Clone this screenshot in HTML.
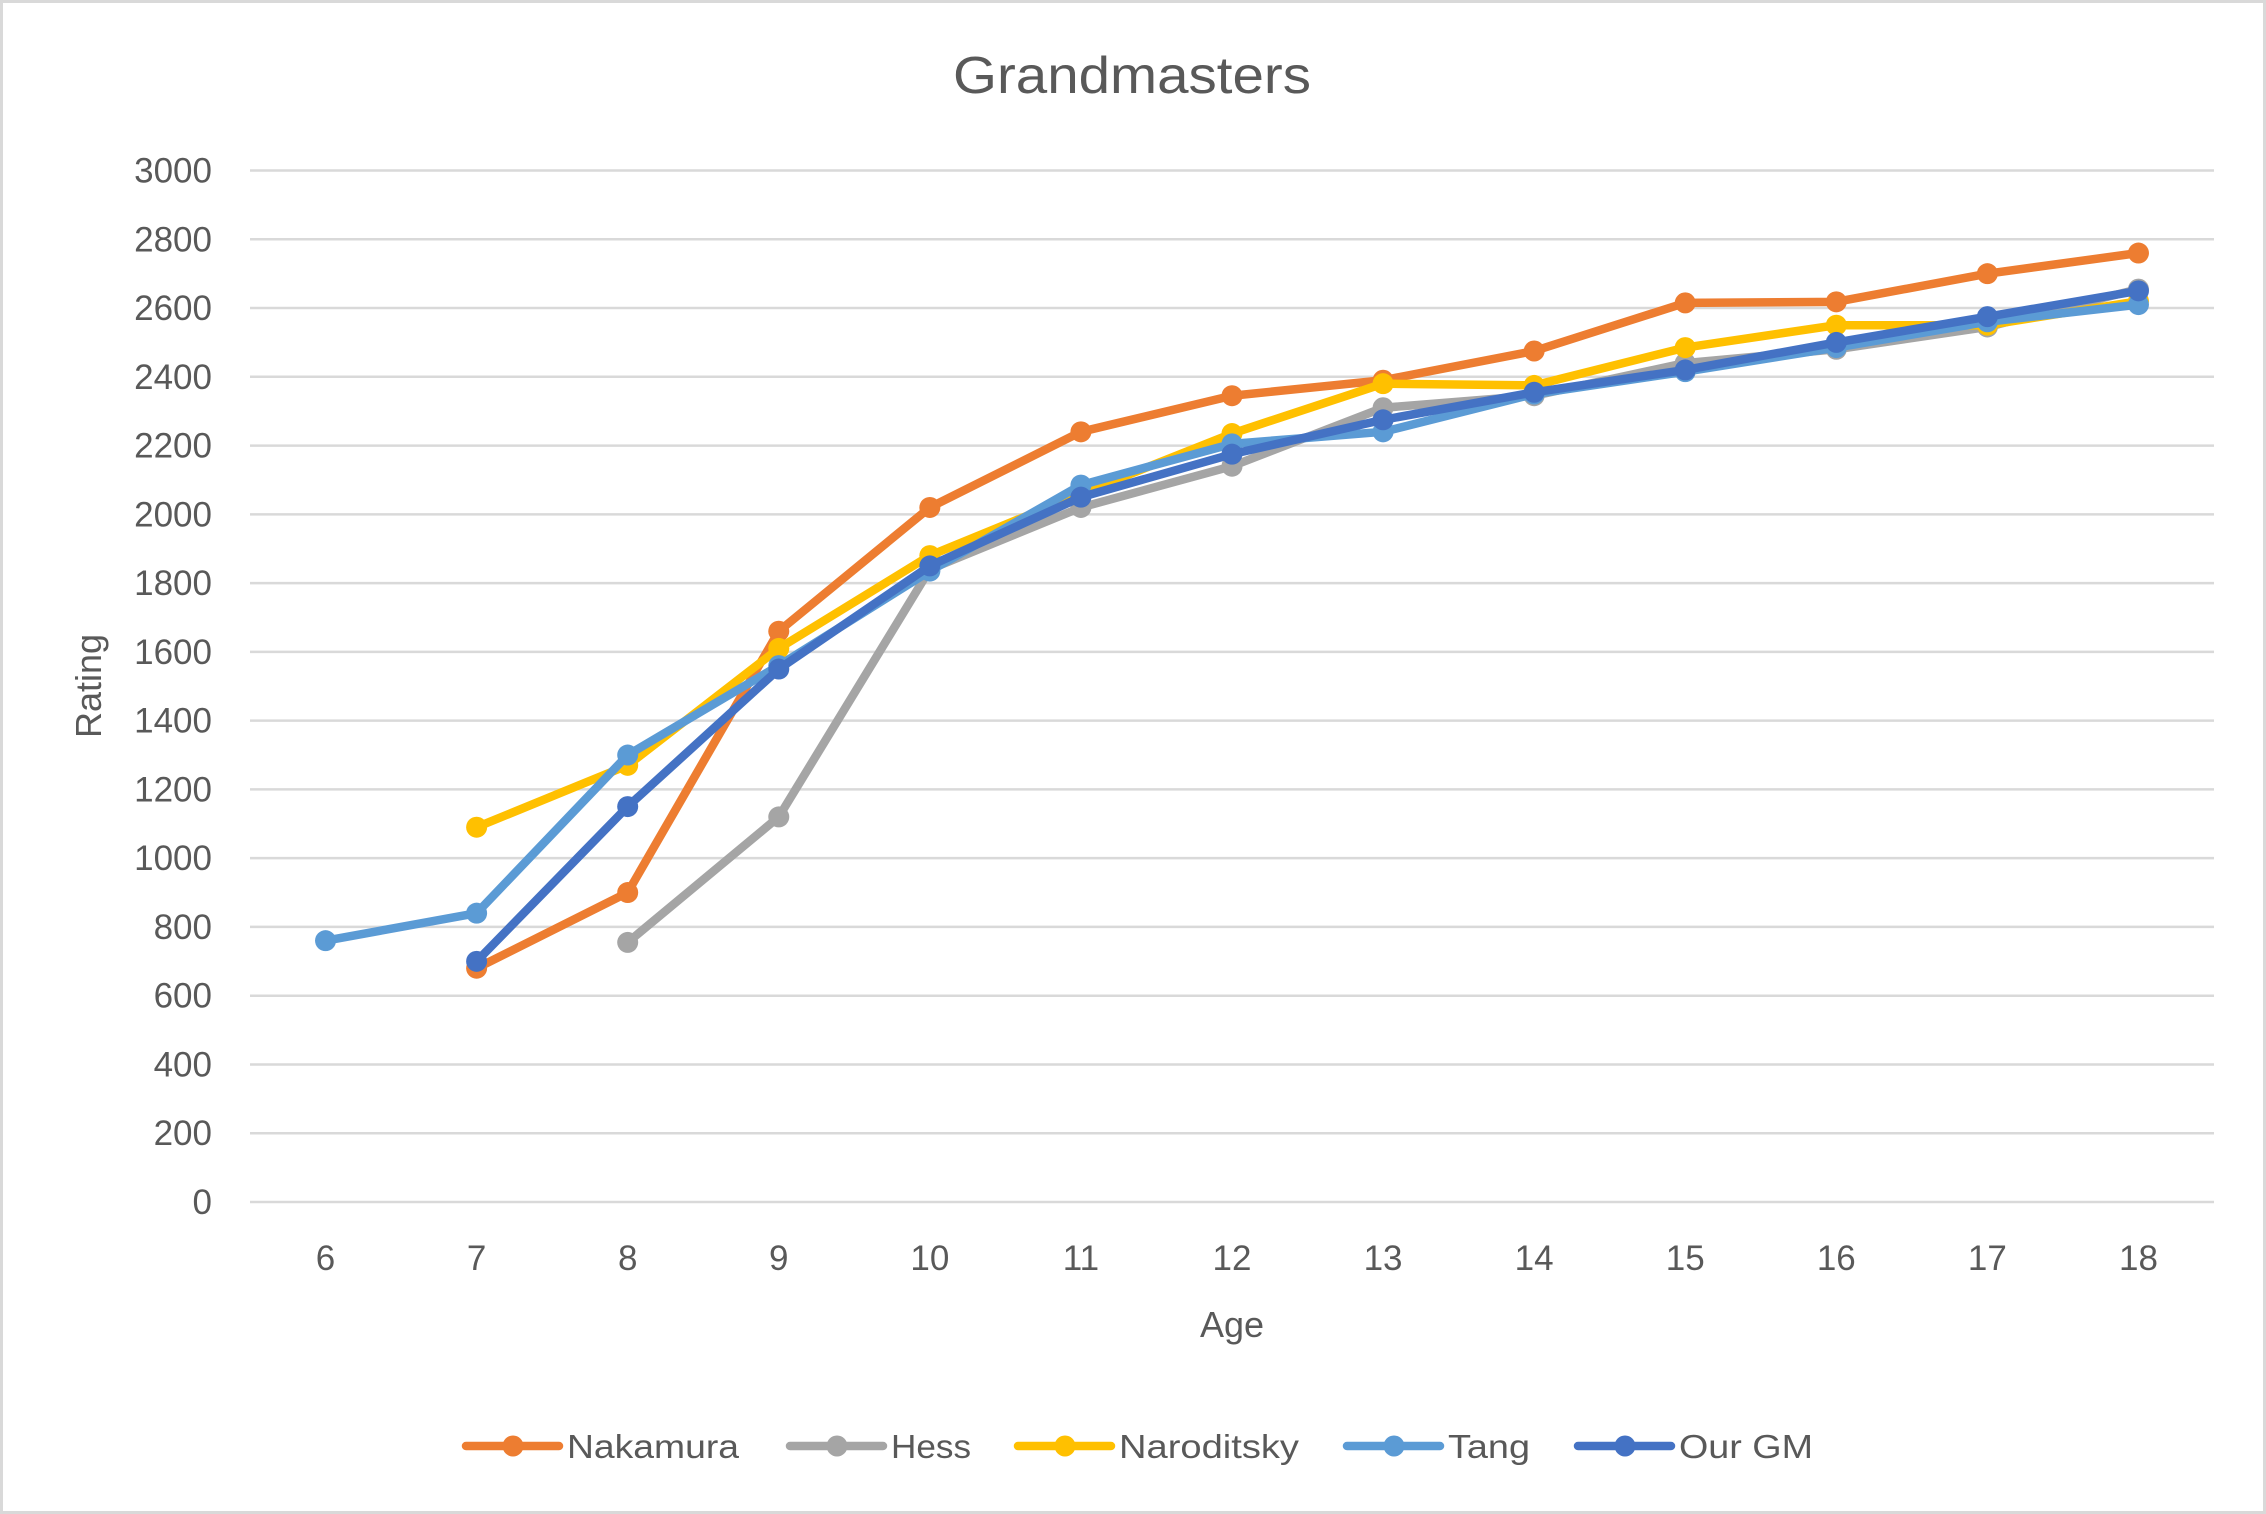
<!DOCTYPE html>
<html><head><meta charset="utf-8"><style>
html,body{margin:0;padding:0;background:#fff}
svg{display:block;font-family:"Liberation Sans",sans-serif}
</style></head><body>
<svg id="chart" width="2266" height="1514" viewBox="0 0 2266 1514">
<rect x="1.5" y="1.5" width="2263" height="1511" fill="#fff" stroke="#d9d9d9" stroke-width="3"/>
<text x="1132" y="93" text-anchor="middle" font-size="52" fill="#595959" textLength="358" lengthAdjust="spacingAndGlyphs">Grandmasters</text>
<g id="grid"></g>
<g id="yticks"></g>
<g id="xticks"></g>
<g id="series"></g>
<text x="1232" y="1337" text-anchor="middle" font-size="36" fill="#595959">Age</text>
<text transform="translate(101,686) rotate(-90)" text-anchor="middle" font-size="36" fill="#595959">Rating</text>
<g id="legend"></g>
</svg>
<script>
const ages = [6,7,8,9,10,11,12,13,14,15,16,17,18];
const yTickLabels = [0,200,400,600,800,1000,1200,1400,1600,1800,2000,2200,2400,2600,2800,3000];
const seriesNames = ["Nakamura","Hess","Naroditsky","Tang","Our GM"];
const nakamura = [null,680,900,1660,2020,2240,2345,2390,2475,2615,2618,2700,2760];
const hess = [null,null,755,1120,1840,2020,2140,2310,2345,2440,2480,2545,2655];
const naroditsky = [null,1090,1270,1610,1880,2060,2235,2380,2375,2485,2550,2550,2620];
const tang = [760,840,1300,1560,1835,2085,2205,2240,2350,2415,2485,2560,2610];
const ourGM = [null,700,1150,1550,1850,2050,2175,2275,2355,2420,2500,2575,2650];
const seriesColors = ["#ed7d31","#a5a5a5","#ffc000","#5b9bd5","#4472c4"];
const seriesData = [nakamura,hess,naroditsky,tang,ourGM];

const NS="http://www.w3.org/2000/svg";
const L=250,R=2214,Y0=1202,Y1=170.5,YMAX=3000;
const band=(R-L)/ages.length;
const x=i=>L+band*(i+0.5);
const y=v=>Y0-(v/YMAX)*(Y0-Y1);
function mk(tag,attrs,parent){const e=document.createElementNS(NS,tag);for(const k in attrs)e.setAttribute(k,attrs[k]);parent.appendChild(e);return e;}

const grid=document.getElementById('grid'),yt=document.getElementById('yticks'),xt=document.getElementById('xticks');
yTickLabels.forEach(v=>{
  const g=mk('line',{x1:L,x2:R,y1:y(v),y2:y(v),stroke:'#d9d9d9','stroke-width':2.5},grid);
  
  
  const t=mk('text',{x:212,y:y(v)+12,'text-anchor':'end','font-size':35,fill:'#595959'},yt);
  t.textContent=v;
  
  
});
ages.forEach((a,i)=>{
  const t=mk('text',{x:x(i),y:1270,'text-anchor':'middle','font-size':35,fill:'#595959'},xt);
  t.textContent=a;
  
  
});
const sg=document.getElementById('series');
seriesData.forEach((d,s)=>{
  const g=mk('g',{},sg);
  
  
  let pts=[];d.forEach((v,i)=>{if(v!=null)pts.push(x(i)+','+y(v));});
  const p=mk('polyline',{points:pts.join(' '),fill:'none',stroke:seriesColors[s],'stroke-width':8.5,'stroke-linejoin':'round','stroke-linecap':'round'},g);
  
  
  d.forEach((v,i)=>{if(v==null)return;
    const c=mk('circle',{cx:x(i),cy:y(v),r:10.5,fill:seriesColors[s]},g);
    
    
  });
});
const lg=document.getElementById('legend');
const lx=[466,790,1018,1347,1578];
const lw=[172,80,180,82,134];
seriesNames.forEach((n,s)=>{
  const g=mk('g',{},lg);
  
  
  mk('line',{x1:lx[s],x2:lx[s]+93,y1:1446,y2:1446,stroke:seriesColors[s],'stroke-width':8.5,'stroke-linecap':'round'},g);
  mk('circle',{cx:lx[s]+47,cy:1446,r:10.5,fill:seriesColors[s]},g);
  const t=mk('text',{x:lx[s]+101,y:1458,'font-size':33,fill:'#595959',textLength:lw[s],lengthAdjust:'spacingAndGlyphs'},g);
  t.textContent=n;
});
</script>
</body></html>
